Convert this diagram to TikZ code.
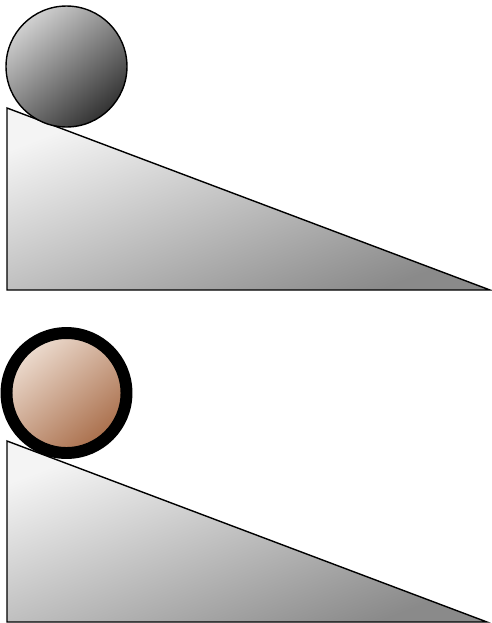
\documentclass[tikz,border=0pt]{standalone}
\usepackage{xcolor}
\usetikzlibrary{positioning}
\definecolor{steelhi}{HTML}{D0D0D0}
\definecolor{steello}{HTML}{333333}
\definecolor{woodhi}{HTML}{EEDED2}
\definecolor{woodlo}{HTML}{A86C48}
\definecolor{ramphi}{HTML}{F4F4F4}
\definecolor{ramplo}{HTML}{8A8A8A}
\tikzset{
	ramp/.style={draw=black, line width=0.8pt, line join=miter,
		top color=ramphi, bottom color=ramplo, shading angle=21},
	ballmetal/.style={circle, draw=black, line width=0.8pt, inner sep=0pt,
		minimum size=2.42cm, top color=steelhi, bottom color=steello, shading angle=40},
	ballwood/.style={circle, draw=black, line width=6.8pt, inner sep=0pt,
		minimum size=2.40cm, top color=woodhi, bottom color=woodlo, shading angle=40},
}
\begin{document}
\begin{tikzpicture}[x=0.02cm, y=-0.02cm]
		\useasboundingbox (0,0) rectangle (491,623);
		% upper incline
		\draw[ramp] (7,108) -- (490,290) -- (7,290) -- cycle;
		\node[ballmetal] (topball) at (66.5,66.5) {};
		% lower incline
		\draw[ramp] (7,441) -- (487,622) -- (7,622) -- cycle;
		\node[ballwood] (lowball) at (66.5,393) {};
	\end{tikzpicture}
\end{document}
